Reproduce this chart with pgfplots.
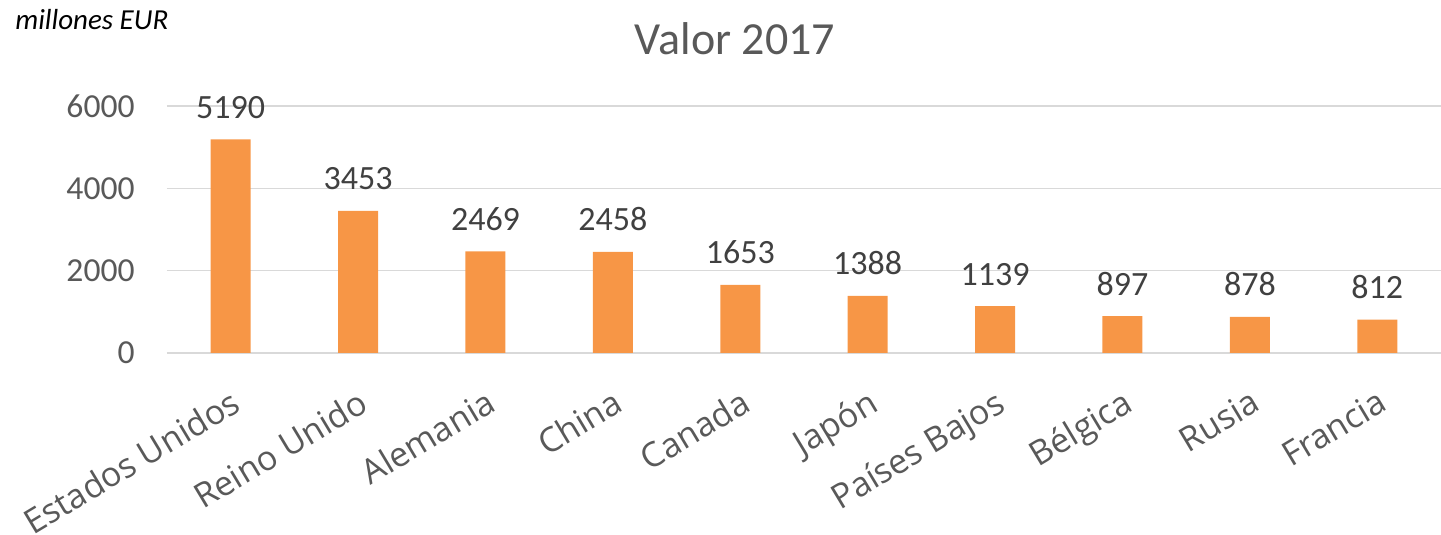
\documentclass[border=0pt]{standalone}
\usepackage{fontspec}
\setmainfont{Carlito}
\newfontfamily\osans{Open Sans}
\usepackage{pgfplots}
\pgfplotsset{compat=1.18}
\definecolor{barc}{HTML}{F79646}
\definecolor{txt}{HTML}{595959}
\definecolor{dlab}{HTML}{404040}
\definecolor{gridc}{HTML}{D9D9D9}
\begin{document}
\begin{tikzpicture}
\begin{axis}[
  at={(0,0)}, anchor=south west,
  width=637pt, height=123.5pt, scale only axis,
  xmin=-0.5, xmax=9.5, ymin=0, ymax=6000,
  ytick={0,2000,4000,6000},
  xtick={0,...,9},
  xticklabels={Estados Unidos,Reino Unido,Alemania,China,Canada,Japón,Países Bajos,Bélgica,Rusia,Francia},
  axis line style={draw=none},
  tick style={draw=none},
  ymajorgrids, grid style={gridc, line width=0.75pt},
  /pgf/number format/1000 sep={},
  /pgf/number format/assume math mode=true,
  yticklabel style={anchor=east, inner sep=0pt, xshift=-16pt, font=\fontsize{16.8pt}{18pt}\selectfont, text=txt},
  xticklabel style={anchor=north east, inner sep=0pt, xshift=-0.5pt, yshift=-17pt, rotate=31, font=\osans\fontsize{17pt}{19pt}\selectfont, text=txt},
  nodes near coords,
  nodes near coords style={anchor=base, yshift=10.5pt, font=\fontsize{17pt}{19pt}\selectfont, text=dlab},
  clip=false,
]
\draw[gridc, line width=0.75pt] (rel axis cs:0,0) -- (rel axis cs:1,0);
\addplot[ybar, bar width=20pt, fill=barc, draw=none] coordinates {
(0,5190) (1,3453) (2,2469) (3,2458) (4,1653) (5,1388) (6,1139) (7,897) (8,878) (9,812)};
\end{axis}
\node[anchor=base, inner sep=0pt, text=txt, font=\fontsize{23pt}{26pt}\selectfont] at (284pt,149pt) {Valor 2017};
\node[anchor=base west, inner sep=0pt, font=\itshape\fontsize{14.5pt}{16pt}\selectfont] at (-76pt,161.5pt) {millones EUR};
\pgfresetboundingbox
\path (-83.5pt,-91pt) rectangle (637pt,176.5pt);
\end{tikzpicture}
\end{document}
